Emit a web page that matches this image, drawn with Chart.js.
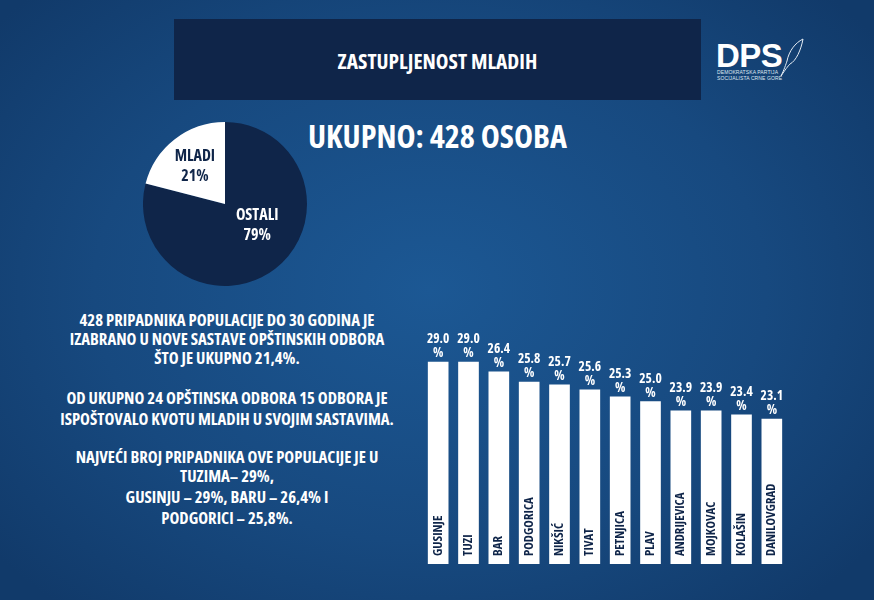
<!DOCTYPE html>
<html>
<head>
<meta charset="utf-8">
<title>Zastupljenost mladih</title>
<script src="https://cdn.jsdelivr.net/npm/chart.js@4"></script>
<style>
    html, body { margin: 0; padding: 0; }
    body {
        position: relative;
        width: 874px;
        height: 600px;
        overflow: hidden;
        background: radial-gradient(ellipse 560px 420px at 430px 290px, #1c5894 0%, #17497f 60%, #113a6a 100%);
        font-family: "Open Sans", sans-serif;
        font-weight: 700;
        color: #fff;
    }
    .abs { position: absolute; }
    .cond { font-stretch: 75%; display: block; white-space: nowrap; }
    #header {
        left: 174px; top: 19px; width: 527px; height: 81px;
        background: #0f2549;
        text-align: center;
        line-height: 84px;
        font-size: 21.4px;
    }
    #total { left: 308px; top: 116px; font-size: 32.2px; line-height: 40px; }
    #notes { left: 27px; top: 0; width: 400px; text-align: center; font-size: 16.7px; }
    #notes div { position: absolute; left: 0; width: 400px; line-height: 20px; }
    #logoMain { left: 716px; top: 36px; font: 700 33px/40px "Liberation Sans", sans-serif; letter-spacing: -.6px; }
    #logoSub { left: 717px; top: 68.5px; font: 400 5px/6.3px "Liberation Sans", sans-serif; letter-spacing: .1px; color: #dfe8f2; white-space: nowrap; }
    #pieChart { position: absolute; left: 143px; top: 122px; }
    #barChart { position: absolute; left: 423px; top: 332px; }
</style>
</head>
<body>
<div id="header" class="abs"><span class="cond">ZASTUPLJENOST MLADIH</span></div>
<div id="total" class="abs cond">UKUPNO: 428 OSOBA</div>

<div id="notes" class="abs">
    <div class="cond" style="top:310px">428 PRIPADNIKA POPULACIJE DO 30 GODINA JE</div>
    <div class="cond" style="top:329px">IZABRANO U NOVE SASTAVE OPŠTINSKIH ODBORA</div>
    <div class="cond" style="top:348px">ŠTO JE UKUPNO 21,4%.</div>
    <div class="cond" style="top:388px">OD UKUPNO 24 OPŠTINSKA ODBORA 15 ODBORA JE</div>
    <div class="cond" style="top:409px">ISPOŠTOVALO KVOTU MLADIH U SVOJIM SASTAVIMA.</div>
    <div class="cond" style="top:447px">NAJVEĆI BROJ PRIPADNIKA OVE POPULACIJE JE U</div>
    <div class="cond" style="top:466px">TUZIMA– 29%,</div>
    <div class="cond" style="top:487px">GUSINJU – 29%, BARU – 26,4% I</div>
    <div class="cond" style="top:508px">PODGORICI – 25,8%.</div>
</div>

<div id="logoMain" class="abs">DPS</div>
<div id="logoSub" class="abs">DEMOKRATSKA PARTIJA<br>SOCIJALISTA CRNE GORE</div>
<svg class="abs" style="left:780px;top:37px" width="26" height="40" viewBox="0 0 26 40">
    <path d="M23 2 C15 6 9 14 7 24 C6 27 4 33 1 39 C5 33 8 29 10 27 C16 24 21 13 23 2 Z" fill="none" stroke="#e6edf5" stroke-width="1"/>
</svg>

<canvas id="pieChart" width="164" height="164"></canvas>
<canvas id="barChart" width="364" height="232"></canvas>

<script>
// pie
const pieNames = ['OSTALI', 'MLADI'];
const pieShares = [79, 21];

// bars
const municipalities = ['GUSINJE', 'TUZI', 'BAR', 'PODGORICA', 'NIKŠIĆ', 'TIVAT', 'PETNJICA', 'PLAV', 'ANDRIJEVICA', 'MOJKOVAC', 'KOLAŠIN', 'DANILOVGRAD'];
// the printed percentages
const youthLabels = ['29.0', '29.0', '26.4', '25.8', '25.7', '25.6', '25.3', '25.0', '23.9', '23.9', '23.4', '23.1'];
// the bars in the original are not to scale with their labels, so lengths are read separately
const barLengths = [29.0, 29.0, 27.6, 26.1, 25.7, 25.0, 24.0, 23.3, 22.0, 22.0, 21.4, 20.8];

const navy = '#0f2549';

function setFont(ctx, size) {
    ctx.font = 'bold ' + size + 'px "Open Sans", sans-serif';
    ctx.fontStretch = 'condensed';
}

const pieLabels = {
    id: 'pieLabels',
    afterDatasetsDraw(chart) {
        const ctx = chart.ctx;
        const arcs = chart.getDatasetMeta(0).data;
        // nudge from the middle of each slice, to where the original has its text
        const nudge = [{ x: 7, y: -11 }, { x: -5, y: -5 }];
        const colors = ['#ffffff', navy];
        ctx.save();
        setFont(ctx, 16);
        ctx.textAlign = 'center';
        ctx.textBaseline = 'middle';
        arcs.forEach((arc, i) => {
            const p = arc.tooltipPosition();
            ctx.fillStyle = colors[i];
            ctx.fillText(pieNames[i], p.x + nudge[i].x, p.y + nudge[i].y - 10);
            ctx.fillText(pieShares[i] + '%', p.x + nudge[i].x, p.y + nudge[i].y + 10);
        });
        ctx.restore();
    }
};

const barLabels = {
    id: 'barLabels',
    afterDatasetsDraw(chart) {
        const ctx = chart.ctx;
        const bottom = chart.scales.y.getPixelForValue(0);
        ctx.save();
        ctx.textAlign = 'center';
        ctx.textBaseline = 'middle';
        chart.getDatasetMeta(0).data.forEach((bar, i) => {
            setFont(ctx, 13.5);
            ctx.fillStyle = '#ffffff';
            ctx.fillText(youthLabels[i], bar.x, bar.y - 23);
            ctx.fillText('%', bar.x, bar.y - 9);

            ctx.save();
            ctx.translate(bar.x, bottom - 8);
            ctx.rotate(-Math.PI / 2);
            ctx.textAlign = 'left';
            setFont(ctx, 12.8);
            ctx.fillStyle = navy;
            ctx.fillText(municipalities[i], 0, 0);
            ctx.restore();
        });
        ctx.restore();
    }
};

new Chart(document.getElementById('pieChart'), {
    type: 'pie',
    data: {
        labels: pieNames,
        datasets: [{
            data: pieShares,
            backgroundColor: [navy, '#ffffff'],
            borderWidth: 0
        }]
    },
    options: {
        responsive: false,
        animation: false,
        plugins: { legend: { display: false }, tooltip: { enabled: false } }
    },
    plugins: [pieLabels]
});

new Chart(document.getElementById('barChart'), {
    type: 'bar',
    data: {
        labels: municipalities,
        datasets: [{
            data: barLengths,
            backgroundColor: '#ffffff',
            borderWidth: 0,
            barThickness: 20
        }]
    },
    options: {
        responsive: false,
        animation: false,
        scales: {
            x: { display: false },
            y: { display: false, min: 0, max: 33.3 }
        },
        plugins: { legend: { display: false }, tooltip: { enabled: false } }
    },
    plugins: [barLabels]
});
</script>
</body>
</html>
